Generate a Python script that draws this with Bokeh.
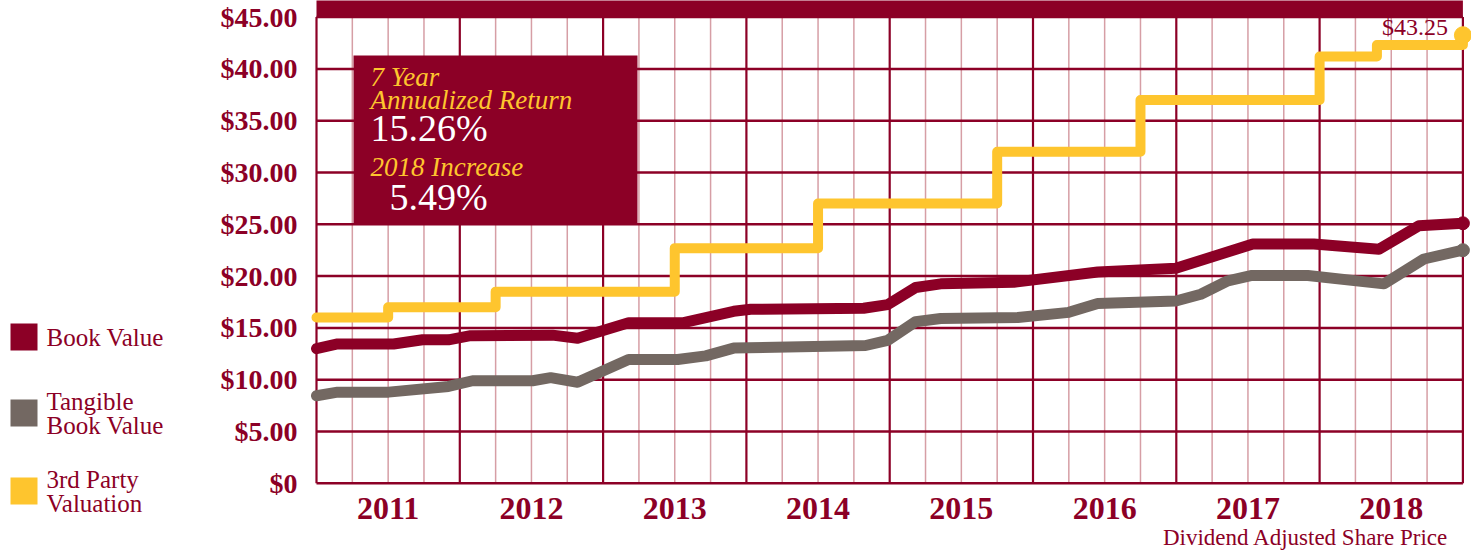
from bokeh.plotting import figure
from bokeh.models import Range1d
from bokeh.core.properties import value
from bokeh.embed import file_html
from bokeh.resources import INLINE

# ---------------- data ----------------
years = [2011, 2012, 2013, 2014, 2015, 2016, 2017, 2018]

book_x = [2010.500, 2010.647, 2011.038, 2011.240, 2011.421, 2011.575, 2012.147, 2012.322,
          2012.678, 2013.062, 2013.411, 2013.530, 2014.318, 2014.486, 2014.681, 2014.856,
          2015.366, 2015.952, 2016.497, 2017.034, 2017.460, 2017.914, 2018.193, 2018.500]
book_y = [13.00, 13.45, 13.45, 13.85, 13.85, 14.25, 14.30, 14.00,
          15.50, 15.50, 16.60, 16.80, 16.90, 17.25, 18.90, 19.25,
          19.40, 20.40, 20.75, 23.10, 23.10, 22.60, 24.85, 25.10]

tang_x = [2010.500, 2010.647, 2011.003, 2011.421, 2011.589, 2012.008, 2012.134, 2012.322,
          2012.678, 2013.020, 2013.216, 2013.411, 2014.332, 2014.486, 2014.681, 2014.856,
          2015.394, 2015.750, 2015.952, 2016.497, 2016.671, 2016.860, 2017.020, 2017.418,
          2017.949, 2018.228, 2018.500]
tang_y = [8.45, 8.80, 8.80, 9.35, 9.90, 9.90, 10.20, 9.75,
          11.95, 11.95, 12.30, 13.05, 13.30, 13.80, 15.60, 15.90,
          16.00, 16.50, 17.35, 17.60, 18.25, 19.55, 20.05, 20.05,
          19.25, 21.65, 22.50]

val_x = [2010.5, 2011.0, 2011.75, 2013.0, 2014.0, 2015.25, 2016.25, 2017.5, 2017.9, 2018.5]
val_y = [16.0, 17.0, 18.5, 22.7, 27.0, 32.0, 37.0, 41.2, 42.3, 43.25]

y_ticks = [0, 5, 10, 15, 20, 25, 30, 35, 40, 45]
y_labels = ["$0", "$5.00", "$10.00", "$15.00", "$20.00", "$25.00", "$30.00", "$35.00", "$40.00", "$45.00"]
x_labels = [str(y) for y in years]

series_names = ["Book Value", "Tangible\nBook Value", "3rd Party\nValuation"]
stat_lines = ["7 Year", "Annualized Return", "15.26%", "2018 Increase", "5.49%"]
footnote = "Dividend Adjusted Share Price"

# ---------------- styles / layout ----------------
RED = "#8C0026"
GOLD = "#FEC52E"
GRAY = "#736862"
MINOR = "#D69EA5"
WHITE = "#FFFFFF"
FONT = value("Liberation Serif")

W, H = 1471, 554
PX_YEAR = 143.3      # pixels per year
PX_DOLLAR = 10.36    # pixels per dollar
LEFT_PX = 316        # pixel of the data box's left edge
ZERO_PX = 482.8      # pixel of the $0 line


def X(px):
    return years[0] - 0.5 + (px - LEFT_PX) / PX_YEAR


def Y(py):
    return (ZERO_PX - py) / PX_DOLLAR


year_edges = [years[0] - 0.5 + k for k in range(len(years) + 1)]
quarter_lines = [years[0] - 0.5 + k / 4 for k in range(len(years) * 4 + 1) if k % 4 != 0]

p = figure(width=W, height=H, output_backend="svg", toolbar_location=None, title=None,
           x_range=Range1d(X(0), X(W)), y_range=Range1d(Y(H), Y(0)),
           x_axis_location=None, y_axis_location=None,
           min_border=0, min_border_left=0, min_border_right=0,
           min_border_top=0, min_border_bottom=0)
p.outline_line_color = None
p.background_fill_color = WHITE
p.border_fill_color = WHITE
p.xgrid.visible = False
p.ygrid.visible = False

# grid inside the data box
p.segment(x0=quarter_lines, x1=quarter_lines, y0=[y_ticks[0]] * len(quarter_lines),
          y1=[y_ticks[-1]] * len(quarter_lines), line_color=MINOR, line_width=1.5)
p.segment(x0=year_edges, x1=year_edges, y0=[y_ticks[0]] * len(year_edges),
          y1=[y_ticks[-1]] * len(year_edges), line_color=RED, line_width=2.2)
p.segment(x0=[year_edges[0]] * len(y_ticks), x1=[year_edges[-1]] * len(y_ticks),
          y0=y_ticks, y1=y_ticks, line_color=RED, line_width=2.5)
# top bar
p.quad(left=[year_edges[0]], right=[year_edges[-1]], bottom=[y_ticks[-1]], top=[Y(-5)],
       fill_color=RED, line_color=None)

# tick labels from the tick arrays
p.text(x=[year_edges[0]] * len(y_ticks), y=y_ticks, text=y_labels, x_offset=-19,
       text_align="right", text_baseline="middle", text_font=FONT, text_font_style="bold",
       text_font_size="28px", text_color=RED)
p.text(x=years, y=[y_ticks[0]] * len(years), text=x_labels, y_offset=25,
       text_align="center", text_baseline="middle", text_font=FONT, text_font_style="bold",
       text_font_size="32px", text_color=RED)
p.text(x=[X(1448)], y=[Y(537)], text=[footnote], text_align="right", text_baseline="middle",
       text_font=FONT, text_font_size="23px", text_color=RED)

# stats box
p.quad(left=[X(353)], right=[X(637)], top=[Y(55)], bottom=[Y(223)], fill_color=RED, line_color=None)
stat_x = [X(370), X(370), X(370), X(370), X(389)]
stat_y = [Y(76.5), Y(99), Y(127.5), Y(166.5), Y(196.5)]
stat_col = [GOLD, GOLD, WHITE, GOLD, WHITE]
stat_style = ["italic", "italic", "normal", "italic", "normal"]
stat_size = ["27px", "27px", "38px", "27px", "38px"]
for t, x, y, c, st, sz in zip(stat_lines, stat_x, stat_y, stat_col, stat_style, stat_size):
    p.text(x=[x], y=[y], text=[t], text_font=FONT, text_font_style=st, text_font_size=sz,
           text_color=c, text_baseline="middle", text_align="left")

# series
p.line(tang_x, tang_y, line_color=GRAY, line_width=11, line_join="round", line_cap="round")
p.line(book_x, book_y, line_color=RED, line_width=11, line_join="round", line_cap="round")
p.step(val_x, val_y, mode="after", line_color=GOLD, line_width=10, line_join="round", line_cap="round")
p.scatter([tang_x[-1]], [tang_y[-1]], size=13, color=GRAY)
p.scatter([book_x[-1]], [book_y[-1]], size=13, color=RED)
p.scatter([val_x[-1]], [val_y[-1]], size=17, color=GOLD)
p.text(x=[val_x[-1]], y=[val_y[-1]], text=["$%.2f" % val_y[-1]], x_offset=-15, y_offset=-8,
       text_align="right", text_baseline="middle", text_font=FONT, text_font_size="24px",
       text_color=RED)

# legend (left of the data box)
colors = [RED, GRAY, GOLD]
sq_tops = [323, 399, 477]
for name, c, top in zip(series_names, colors, sq_tops):
    p.quad(left=[X(10)], right=[X(37)], top=[Y(top)], bottom=[Y(top + 27)],
           fill_color=c, line_color=None)
    parts = name.split("\n")
    mid = top + 13.5
    centers = [mid] if len(parts) == 1 else [mid - 12, mid + 12]
    p.text(x=[X(46)] * len(parts), y=[Y(cy) for cy in centers], text=parts, text_font=FONT,
           text_font_size="25px", text_color=RED, text_baseline="middle", text_align="left")

open("out.html", "w").write(file_html(p, INLINE))
